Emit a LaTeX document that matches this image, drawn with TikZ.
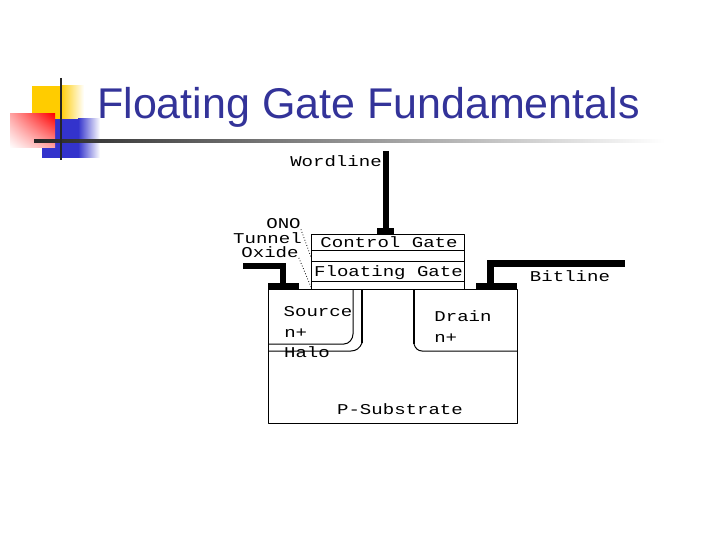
\documentclass[tikz,border=0pt]{standalone}
\usepackage{fontspec}
\usetikzlibrary{shadings}
\setmainfont{Liberation Sans}
\newfontfamily\labelfont{Liberation Mono}
\definecolor{titleblue}{RGB}{51,51,153}
\definecolor{ornyellow}{RGB}{255,204,0}
\definecolor{ornblue}{RGB}{51,51,204}
\tikzset{
	lbl/.style={font=\labelfont\fontsize{15}{15}\selectfont, inner sep=0pt, anchor=base, xscale=1.27, transform shape},
	wire/.style={line width=6pt, line cap=butt, line join=miter},
	leader/.style={dotted, line width=.8pt},
	thinline/.style={line width=1pt},
	thickline/.style={line width=2pt}
}
\begin{document}
\begin{tikzpicture}[x=1pt, y=-1pt, line join=round]
		% Page window
		\useasboundingbox (0,0) rectangle (720,540);
		
		% Corner ornament
		\fill[ornyellow] (32,86) rectangle (60,119);
		\shade[left color=ornyellow, right color=white] (60,86) rectangle (84,119);
		\fill[ornblue] (42,119) rectangle (78,158);
		\shade[left color=ornblue, right color=white] (78,119) rectangle (100,158);
		\shade[lower left=white, upper right=red, upper left=red!35!white, lower right=red!35!white] (10,114) rectangle (55,148);
		\shade[left color=black!85, right color=white] (34,139.5) rectangle (665,142.5);
		\draw[line width=2.6pt, black!85] (61,78) -- (61,160);
		
		% Title
		\node[font=\fontsize{43}{43}\selectfont, text=titleblue, inner sep=0pt, anchor=base west] (title) at (97,119) {Floating Gate Fundamentals};
		
		% Substrate and gate stack
		\draw[thinline] (268.5,289) rectangle (517,423.5);
		\draw[thinline] (311,234.5) rectangle (464.5,289);
		\draw[thinline] (311,250.5) -- (464.5,250.5);
		\draw[thinline] (311,261.5) -- (464.5,261.5);
		\draw[thinline] (311,281) -- (464.5,281);
		
		% Source, halo and drain wells
		\draw[thinline] (353,289) -- (353,334) .. controls (353,339) and (349,344) .. (344,344) -- (268.5,344);
		\draw[thinline] (362,343) .. controls (360,348) and (356,351) .. (351,351) -- (268.5,351);
		\draw[thickline] (362,289) -- (362,343);
		\draw[thickline] (414,289) -- (414,344);
		\draw[thinline] (414,344) .. controls (415,348) and (418,351) .. (422,351) -- (517,351);
		
		% Contact pads
		\fill (268,283) rectangle (299,289);
		\fill (377,228) rectangle (394,234.5);
		\fill (476,283) rectangle (517,289);
		
		% Metal lines
		\coordinate (wordtop) at (386,151);
		\coordinate (wordend) at (386,228);
		\coordinate (srcend) at (243,265.5);
		\coordinate (srcbend) at (283,265.5);
		\coordinate (srcpad) at (283,283);
		\coordinate (bitpad) at (490.5,283);
		\coordinate (bitbend) at (490.5,263.3);
		\coordinate (bitend) at (625,263.3);
		\draw[wire] (wordtop) -- (wordend);
		\draw[wire] (srcend) -- (srcbend) -- (srcpad);
		\draw[wire, line width=6.7pt] (bitpad) -- (bitbend) -- (bitend);
		
		% Text labels
		\node[lbl] (wordline) at (336,166.5) {Wordline};
		\node[lbl] (ono) at (283.5,229) {ONO};
		\node[lbl] (tunnel) at (267.5,243.5) {Tunnel};
		\node[lbl] (oxide) at (270,257.5) {Oxide};
		\node[lbl] (control) at (389,247.5) {Control Gate};
		\node[lbl] (floating) at (388.5,276) {Floating Gate};
		\node[lbl] (bitline) at (570,281.5) {Bitline};
		\node[lbl] (source) at (318,316) {Source};
		\node[lbl, anchor=base west] (srcn) at (284,337) {n+};
		\node[lbl] (halo) at (307,357) {Halo};
		\node[lbl] (drain) at (463,321) {Drain};
		\node[lbl, anchor=base west] (drnn) at (434,342) {n+};
		\node[lbl] (psub) at (400,414) {P-Substrate};
		
		% Dotted leaders to the thin layers
		\coordinate (onoend) at (311,257);
		\coordinate (oxideend) at (311,287);
		\draw[leader] (ono.south east) -- (onoend);
		\draw[leader] (oxide.south east) -- (oxideend);
	\end{tikzpicture}
\end{document}
